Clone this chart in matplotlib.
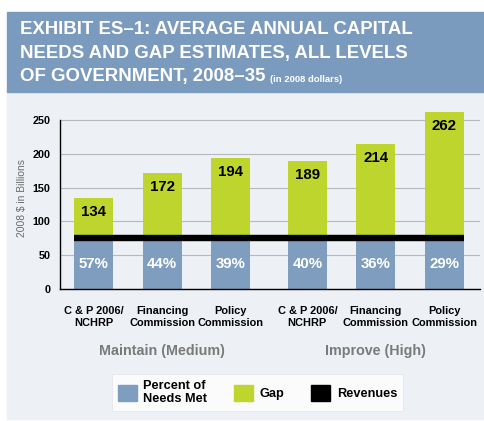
import numpy as np
import matplotlib
matplotlib.use('Agg')
import matplotlib.pyplot as plt
from matplotlib.patches import Rectangle, Patch
import matplotlib.transforms as mtransforms

plt.rcParams['font.family'] = ['Liberation Sans', 'DejaVu Sans']

# estimates in billions of 2008 dollars
categories = ['C & P 2006/\nNCHRP', 'Financing\nCommission', 'Policy\nCommission',
              'C & P 2006/\nNCHRP', 'Financing\nCommission', 'Policy\nCommission']
groups = ['Maintain (Medium)', 'Improve (High)']
group_sizes = [3, 3]
total_needs = [134, 172, 194, 189, 214, 262]
pct_met = [57, 44, 39, 40, 36, 29]
revenues = 76
y_ticks = [0, 50, 100, 150, 200, 250]

BLUE = '#7f9dbf'
GREEN = '#bdd52d'
HEADER = '#7b9bbe'
PANEL = '#edf0f5'

W, H = 484, 421
fig = plt.figure(figsize=(W / 100, H / 100), dpi=100)
fig.patch.set_facecolor('white')

def px(x, y, w, h):
    # pixel box (top-left origin) -> figure fraction
    return (x / W, 1 - (y + h) / H, w / W, h / H)

fig.patches.append(Rectangle(px(7, 92, 477, 327)[:2], 477 / W, 327 / H,
                             transform=fig.transFigure, color=PANEL, zorder=-2))
fig.patches.append(Rectangle(px(7, 12, 477, 80)[:2], 477 / W, 80 / H,
                             transform=fig.transFigure, color=HEADER, zorder=-2))

title_lines = ['EXHIBIT ES\u20131: AVERAGE ANNUAL CAPITAL',
               'NEEDS AND GAP ESTIMATES, ALL LEVELS',
               'OF GOVERNMENT, 2008\u201335']
for i, line in enumerate(title_lines):
    t = fig.text(20 / W, 1 - (30 + 23.5 * i) / H, line, color='white',
                 fontsize=13.4, fontweight='bold', va='center', ha='left')
fig.canvas.draw()
ext = t.get_window_extent()
fig.text((ext.x1 + 4) / W, ext.y0 / H + 1.5 / H, '(in 2008 dollars)', color='white',
         fontsize=6.8, fontweight='bold', va='bottom', ha='left')

# axes: y=0 at 289px, 0.676 px per billion
ylim_top = 268
ax_h = ylim_top * 0.676
ax = fig.add_axes(px(60, 289 - ax_h, 420, ax_h))
ax.set_facecolor('none')

# bar positions, with a small gap between the two scenario groups
group_gap = 0.12
x = []
start = 0.0
for n in group_sizes:
    x.extend(start + np.arange(n))
    start = x[-1] + 1 + group_gap
x = np.array(x)
width = 0.57

gap_heights = [t - revenues for t in total_needs]
ax.bar(x, revenues, width, color=BLUE, zorder=2)
ax.bar(x, gap_heights, width, bottom=revenues, color=GREEN, zorder=2)
ax.hlines(revenues, x[0] - width / 2, x[-1] + width / 2, color='black', lw=4.6, zorder=3)

for xi, tot, p in zip(x, total_needs, pct_met):
    ax.annotate(str(tot), (xi, tot), xytext=(0, -10), textcoords='offset points',
                ha='center', va='center', fontsize=10.8, fontweight='bold', zorder=4)
    ax.text(xi, 37, f'{p}%', ha='center', va='center', color='white',
            fontsize=10.8, fontweight='bold', zorder=4)

ax.set_xlim(x[0] - 0.49, x[0] + 5.64)
ax.set_ylim(0, ylim_top)
ax.set_yticks(y_ticks)
ax.set_yticklabels([str(v) for v in y_ticks], fontsize=7.8, fontweight='bold')
ax.tick_params(axis='y', length=0, pad=7)
ax.set_xticks(x)
ax.set_xticklabels(categories, fontsize=7.9, fontweight='bold', linespacing=1.3)
ax.tick_params(axis='x', length=0, pad=12)
ax.yaxis.grid(True, color='#b5b8bd', lw=0.8, zorder=0)
ax.set_axisbelow(True)
for s in ['top', 'right']:
    ax.spines[s].set_visible(False)
ax.spines['left'].set_bounds(0, 250)
ax.spines['left'].set_linewidth(1.0)
ax.spines['bottom'].set_linewidth(1.0)
ax.set_ylabel('2008 $ in Billions', fontsize=7.4, color='#6b6b6b', labelpad=4)

idx = 0
trans = mtransforms.blended_transform_factory(ax.transData, ax.transAxes)
for g, n in zip(groups, group_sizes):
    cx = x[idx:idx + n].mean()
    ax.annotate(g, (cx, 0), xycoords=trans, xytext=(0, -62 * 0.72),
                textcoords='offset points', ha='center', va='center',
                fontsize=10.3, fontweight='bold', color='#7a7a7a')
    idx += n

handles = [Patch(color=BLUE, label='Percent of\nNeeds Met'),
           Patch(color=GREEN, label='Gap'),
           Patch(color='black', label='Revenues')]
leg = fig.legend(handles=handles, ncol=3, loc='center',
                 bbox_to_anchor=(257.5 / W, 1 - 392.5 / H),
                 prop={'weight': 'bold', 'size': 9.2}, frameon=True, fancybox=False,
                 handlelength=1.5, handleheight=1.5, handletextpad=0.5,
                 columnspacing=2.1, borderpad=0.45, labelspacing=0.2)
leg.get_frame().set_facecolor('white')
leg.get_frame().set_edgecolor('#e2e4e8')
leg.get_frame().set_linewidth(0.6)

fig.savefig('out.png', dpi=100)
